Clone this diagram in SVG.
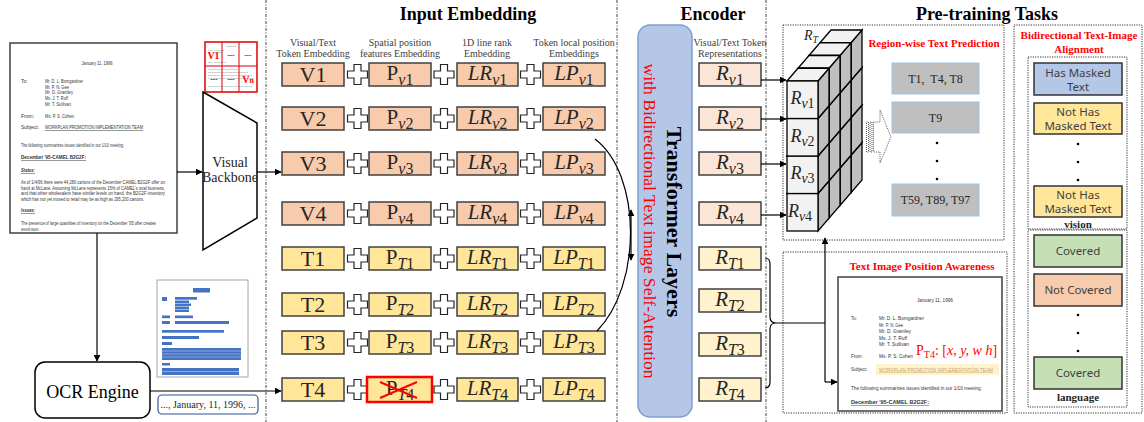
<svg xmlns="http://www.w3.org/2000/svg" width="1144" height="422" viewBox="0 0 1144 422">
<defs>
<style>
.hd{font-family:"Liberation Serif",serif;font-weight:bold;font-size:18px;fill:#000;text-anchor:middle}
.ch{font-family:"Liberation Serif",serif;font-size:10px;fill:#404040;text-anchor:middle}
.big{font-family:"Liberation Serif",serif;font-size:22px;fill:#262626;text-anchor:middle}
.m{font-family:"Liberation Serif",serif;font-size:21px;fill:#262626;text-anchor:middle}
.i{font-style:italic}
.sb{font-size:16px}
.bv{fill:#F8CBAD;stroke:#404040;stroke-width:1.5}
.bt{fill:#FFE699;stroke:#404040;stroke-width:1.5}
.rv{fill:#FBE5D6;stroke:#404040;stroke-width:1.5}
.rt{fill:#FFF2CC;stroke:#404040;stroke-width:1.5}
.sep{stroke:#444;stroke-width:1;stroke-dasharray:3 1.5 1 1.5;fill:none}
.dot{stroke:#333;stroke-width:1;stroke-dasharray:1.2 1.2;fill:none}
.ln{stroke:#000;stroke-width:1.2;fill:none}
.dt{font-family:"Liberation Sans",sans-serif;font-size:5px;fill:#333}
.dti{font-family:"Liberation Sans",sans-serif;font-size:4.5px;fill:#333}
.red{font-family:"Liberation Serif",serif;font-weight:bold;font-size:11px;fill:#FF0000;text-anchor:middle}
.gb{fill:#BFBFBF;stroke:#9DC3E6;stroke-width:1}
.gt{font-family:"Liberation Serif",serif;font-size:12px;fill:#262626;text-anchor:middle}
.st{font-family:"Noto Sans",sans-serif;font-size:11.5px;fill:#404040;text-anchor:middle}
.sbx{stroke:#333;stroke-width:1.5}
.lbl{font-family:"Liberation Serif",serif;font-weight:bold;font-size:11px;fill:#262626;text-anchor:middle}
.bar{fill:#4472C4}
.th{fill:#C8C8C8}
.rd{font-family:"Liberation Sans",sans-serif;font-weight:bold;font-size:7px;fill:#FF0000;text-anchor:middle}
.cl{font-family:"Liberation Serif",serif;font-size:18px;fill:#262626;text-anchor:middle}
</style>
<marker id="ah" viewBox="0 0 10 10" refX="9" refY="5" markerWidth="7" markerHeight="7" markerUnits="userSpaceOnUse" orient="auto-start-reverse"><path d="M0,0 L10,5 L0,10 z" fill="#000"/></marker>
<path id="plus" d="M-3.5,-10h7v6.5h6.5v7h-6.5v6.5h-7v-6.5h-6.5v-7h6.5z" fill="#fff" stroke="#262626" stroke-width="1.2"/>
<g id="cube">
<polygon points="31,0 42,-12.75 42,24.75 31,37.5" fill="#BFBFBF" stroke="#000" stroke-width="1.3"/>
<polygon points="0,0 11,-12.75 42,-12.75 31,0" fill="#F2F2F2" stroke="#000" stroke-width="1.3"/>
<rect width="31" height="37.5" fill="#F2F2F2" stroke="#000" stroke-width="1.3"/>
</g>
</defs>
<rect width="1144" height="422" fill="#fff"/>

<!-- separators and headers -->
<g id="frame">
<line class="sep" x1="266" y1="0" x2="266" y2="422"/>
<line class="sep" x1="617" y1="0" x2="617" y2="422"/>
<line class="sep" x1="766" y1="0" x2="766" y2="422"/>
<text class="hd" x="468" y="20">Input Embedding</text>
<text class="hd" x="713" y="20">Encoder</text>
<text class="hd" x="987" y="20">Pre-training Tasks</text>
<text class="ch" x="313" y="46">Visual/Text</text>
<text class="ch" x="313" y="57">Token Embedding</text>
<text class="ch" x="400" y="46">Spatial position</text>
<text class="ch" x="400" y="57">features Embedding</text>
<text class="ch" x="487" y="46">1D line rank</text>
<text class="ch" x="487" y="57">Embedding</text>
<text class="ch" x="574" y="46">Token local position</text>
<text class="ch" x="574" y="57">Embeddings</text>
<text class="ch" x="730" y="46">Visual/Text Token</text>
<text class="ch" x="730" y="57">Representations</text>
</g>

<!-- source document -->
<g id="document">
<rect x="10" y="43" width="167" height="190" fill="#fff" stroke="#404040" stroke-width="1.5"/>
<text class="dt" x="97" y="65" text-anchor="middle" textLength="31" lengthAdjust="spacingAndGlyphs">January 11, 1996</text>
<text class="dt" x="21" y="83">To:</text>
<text class="dt" x="45" y="83" textLength="38" lengthAdjust="spacingAndGlyphs">Mr. D. L. Bomgardner</text>
<text class="dt" x="45" y="88.5" textLength="24" lengthAdjust="spacingAndGlyphs">Mr. P. N. Gee</text>
<text class="dt" x="45" y="94" textLength="28" lengthAdjust="spacingAndGlyphs">Mr. D. Gramley</text>
<text class="dt" x="45" y="100" textLength="23" lengthAdjust="spacingAndGlyphs">Ms. J. T. Ruff</text>
<text class="dt" x="45" y="106" textLength="26" lengthAdjust="spacingAndGlyphs">Mr. T. Sullivan</text>
<text class="dt" x="21" y="118">From:</text>
<text class="dt" x="45" y="118" textLength="29" lengthAdjust="spacingAndGlyphs">Ms. P. S. Cohen</text>
<text class="dt" x="21" y="129">Subject:</text>
<text class="dt" x="45" y="129" textLength="98" lengthAdjust="spacingAndGlyphs" text-decoration="underline">WORKPLAN PROMOTION IMPLEMENTATION TEAM</text>
<text class="dt" x="21" y="147" textLength="103" lengthAdjust="spacingAndGlyphs">The following summarizes issues identified in our 1/10 meeting:</text>
<text class="dt" x="21" y="159" font-size="6" font-weight="bold" textLength="65" lengthAdjust="spacingAndGlyphs" text-decoration="underline">December '95-CAMEL B2G2F:</text>
<text class="dt" x="21" y="172" font-weight="bold" font-style="italic" textLength="14" lengthAdjust="spacingAndGlyphs" text-decoration="underline">Status:</text>
<text class="dt" x="21" y="184" textLength="144" lengthAdjust="spacingAndGlyphs">As of 1/4/96 there were 44,280 cartons of the December CAMEL B2G2F offer on</text>
<text class="dt" x="21" y="189.5" textLength="144" lengthAdjust="spacingAndGlyphs">hand at McLane.  Assuming McLane represents 15% of CAMEL's total business,</text>
<text class="dt" x="21" y="195" textLength="144" lengthAdjust="spacingAndGlyphs">and that other wholesalers have similar levels on hand, the B2G2F inventory</text>
<text class="dt" x="21" y="200.5" textLength="123" lengthAdjust="spacingAndGlyphs">which has not yet moved to retail may be as high as 295,200 cartons.</text>
<text class="dt" x="21" y="212" font-weight="bold" font-style="italic" textLength="14" lengthAdjust="spacingAndGlyphs" text-decoration="underline">Issues:</text>
<text class="dt" x="21" y="225" textLength="135" lengthAdjust="spacingAndGlyphs">The presence of large quantities of inventory on the December '95 offer creates</text>
<text class="dt" x="21" y="230.5" textLength="18" lengthAdjust="spacingAndGlyphs">several issues:</text>
</g>

<!-- visual patches -->
<g id="patches">
<rect x="205" y="42" width="52" height="50" fill="#fff"/>
<rect class="th" x="226" y="46" width="10" height="1"/>
<rect class="th" x="208" y="50" width="4" height="0.8"/>
<rect class="th" x="214" y="50" width="10" height="0.8"/>
<rect class="th" x="214" y="52" width="8" height="0.8"/>
<rect class="th" x="208" y="62" width="4" height="0.8"/>
<rect class="th" x="214" y="62" width="12" height="0.8"/>
<rect class="th" x="208" y="69" width="30" height="0.8"/>
<rect class="th" x="208" y="72" width="40" height="0.8"/>
<rect class="th" x="208" y="75" width="44" height="0.8"/>
<rect class="th" x="208" y="78" width="46" height="0.8"/>
<rect class="th" x="208" y="86" width="44" height="0.8"/>
<rect x="205" y="42" width="52" height="50" fill="none" stroke="#E00000" stroke-width="1.5"/>
<line x1="222" y1="42" x2="222" y2="92" stroke="#E00000" stroke-width="1"/>
<line x1="239" y1="42" x2="239" y2="92" stroke="#E00000" stroke-width="1"/>
<line x1="205" y1="66" x2="257" y2="66" stroke="#E00000" stroke-width="1"/>
<text x="213.5" y="59" font-family="Liberation Serif, serif" font-weight="bold" font-size="10" fill="#FF0000" text-anchor="middle">V1</text>
<text class="rd" x="231" y="57">---</text>
<text class="rd" x="248" y="57">---</text>
<text class="rd" x="214" y="81">---</text>
<text class="rd" x="231" y="81">---</text>
<text x="248" y="83" font-family="Liberation Serif, serif" font-weight="bold" font-size="10" fill="#FF0000" text-anchor="middle">V<tspan font-size="8">n</tspan></text>
</g>

<g id="backbone">
<polygon points="203,92 257,123 257,218 203,250" fill="#fff" stroke="#000" stroke-width="1.5"/>
<text x="230" y="167" font-family="Liberation Serif, serif" font-size="14" fill="#262626" text-anchor="middle">Visual</text>
<text x="230" y="182" font-family="Liberation Serif, serif" font-size="14" fill="#262626" text-anchor="middle">Backbone</text>
</g>

<g id="ocr-engine">
<rect x="35" y="362" width="115" height="56" rx="10" fill="#fff" stroke="#000" stroke-width="1.5"/>
<text x="92.5" y="398" font-family="Liberation Serif, serif" font-size="18" fill="#000" text-anchor="middle">OCR Engine</text>
</g>

<g id="ocr-layout">
<rect x="157" y="280" width="91" height="97" fill="#fff" stroke="#A6A6A6" stroke-width="1"/>
<rect class="bar" x="193" y="288" width="17" height="4.5"/>
<rect class="bar" x="162" y="297" width="5" height="4"/>
<rect class="bar" x="175" y="297" width="22" height="2.7"/>
<rect class="bar" x="175" y="300.5" width="14" height="2.5"/>
<rect class="bar" x="175" y="303.5" width="16" height="2.5"/>
<rect class="bar" x="175" y="306.5" width="14" height="2.5"/>
<rect class="bar" x="175" y="309.5" width="14" height="2.5"/>
<rect class="bar" x="162" y="315.5" width="8" height="2.7"/>
<rect class="bar" x="175" y="315.5" width="18" height="2.7"/>
<rect class="bar" x="162" y="321" width="8" height="3"/>
<rect class="bar" x="175" y="321" width="54" height="3"/>
<rect class="bar" x="162" y="330" width="62" height="2.7"/>
<rect class="bar" x="162" y="336" width="37" height="3"/>
<rect class="bar" x="162" y="342" width="10" height="3"/>
<rect class="bar" x="162" y="348" width="79" height="12"/>
<rect class="bar" x="162" y="363" width="8" height="2.5"/>
<rect class="bar" x="162" y="368" width="77" height="7"/>
<line x1="162" y1="351" x2="241" y2="351" stroke="#fff" stroke-width="0.4"/>
<line x1="162" y1="354" x2="241" y2="354" stroke="#fff" stroke-width="0.4"/>
<line x1="162" y1="357" x2="241" y2="357" stroke="#fff" stroke-width="0.4"/>
<line x1="162" y1="371.5" x2="239" y2="371.5" stroke="#fff" stroke-width="0.4"/>
</g>

<g id="ocr-text">
<rect x="158" y="395" width="100" height="19" rx="4" fill="#fff" stroke="#2F5597" stroke-width="1.2"/>
<text x="208" y="408" font-family="Liberation Serif, serif" font-size="10" fill="#262626" text-anchor="middle">..., January, 11, 1996, ...</text>
</g>

<!-- input embedding rows -->
<g id="row-v1">
<rect class="bv" x="282" y="63" width="62" height="23"/><text class="big" x="313" y="82">V1</text>
<use href="#plus" x="357.5" y="74.5"/>
<rect class="bv" x="369" y="63" width="62" height="23"/><text class="m" x="400" y="80">P<tspan class="sb" dy="4.5"><tspan class="i">v</tspan>1</tspan></text>
<use href="#plus" x="444" y="74.5"/>
<rect class="bv" x="457" y="63" width="61" height="23"/><text class="m" x="487.5" y="80"><tspan class="i">LR</tspan><tspan class="sb" dy="4.5"><tspan class="i">v</tspan>1</tspan></text>
<use href="#plus" x="530.5" y="74.5"/>
<rect class="bv" x="543" y="63" width="62" height="23"/><text class="m" x="574" y="80"><tspan class="i">LP</tspan><tspan class="sb" dy="4.5"><tspan class="i">v</tspan>1</tspan></text>
</g>
<g id="row-v2">
<rect class="bv" x="282" y="107" width="62" height="23"/><text class="big" x="313" y="126">V2</text>
<use href="#plus" x="357.5" y="118.5"/>
<rect class="bv" x="369" y="107" width="62" height="23"/><text class="m" x="400" y="124">P<tspan class="sb" dy="4.5"><tspan class="i">v</tspan>2</tspan></text>
<use href="#plus" x="444" y="118.5"/>
<rect class="bv" x="457" y="107" width="61" height="23"/><text class="m" x="487.5" y="124"><tspan class="i">LR</tspan><tspan class="sb" dy="4.5"><tspan class="i">v</tspan>2</tspan></text>
<use href="#plus" x="530.5" y="118.5"/>
<rect class="bv" x="543" y="107" width="62" height="23"/><text class="m" x="574" y="124"><tspan class="i">LP</tspan><tspan class="sb" dy="4.5"><tspan class="i">v</tspan>2</tspan></text>
</g>
<g id="row-v3">
<rect class="bv" x="282" y="152" width="62" height="23"/><text class="big" x="313" y="171">V3</text>
<use href="#plus" x="357.5" y="163.5"/>
<rect class="bv" x="369" y="152" width="62" height="23"/><text class="m" x="400" y="169">P<tspan class="sb" dy="4.5"><tspan class="i">v</tspan>3</tspan></text>
<use href="#plus" x="444" y="163.5"/>
<rect class="bv" x="457" y="152" width="61" height="23"/><text class="m" x="487.5" y="169"><tspan class="i">LR</tspan><tspan class="sb" dy="4.5"><tspan class="i">v</tspan>3</tspan></text>
<use href="#plus" x="530.5" y="163.5"/>
<rect class="bv" x="543" y="152" width="62" height="23"/><text class="m" x="574" y="169"><tspan class="i">LP</tspan><tspan class="sb" dy="4.5"><tspan class="i">v</tspan>3</tspan></text>
</g>
<g id="row-v4">
<rect class="bv" x="282" y="202" width="62" height="23"/><text class="big" x="313" y="221">V4</text>
<use href="#plus" x="357.5" y="213.5"/>
<rect class="bv" x="369" y="202" width="62" height="23"/><text class="m" x="400" y="219">P<tspan class="sb" dy="4.5"><tspan class="i">v</tspan>4</tspan></text>
<use href="#plus" x="444" y="213.5"/>
<rect class="bv" x="457" y="202" width="61" height="23"/><text class="m" x="487.5" y="219"><tspan class="i">LR</tspan><tspan class="sb" dy="4.5"><tspan class="i">v</tspan>4</tspan></text>
<use href="#plus" x="530.5" y="213.5"/>
<rect class="bv" x="543" y="202" width="62" height="23"/><text class="m" x="574" y="219"><tspan class="i">LP</tspan><tspan class="sb" dy="4.5"><tspan class="i">v</tspan>4</tspan></text>
</g>
<g id="row-t1">
<rect class="bt" x="282" y="247" width="62" height="23"/><text class="big" x="313" y="266">T1</text>
<use href="#plus" x="357.5" y="258.5"/>
<rect class="bt" x="369" y="247" width="62" height="23"/><text class="m" x="400" y="264">P<tspan class="sb" dy="4.5"><tspan class="i">T</tspan>1</tspan></text>
<use href="#plus" x="444" y="258.5"/>
<rect class="bt" x="457" y="247" width="61" height="23"/><text class="m" x="487.5" y="264"><tspan class="i">LR</tspan><tspan class="sb" dy="4.5"><tspan class="i">T</tspan>1</tspan></text>
<use href="#plus" x="530.5" y="258.5"/>
<rect class="bt" x="543" y="247" width="62" height="23"/><text class="m" x="574" y="264"><tspan class="i">LP</tspan><tspan class="sb" dy="4.5"><tspan class="i">T</tspan>1</tspan></text>
</g>
<g id="row-t2">
<rect class="bt" x="282" y="293" width="62" height="23"/><text class="big" x="313" y="312">T2</text>
<use href="#plus" x="357.5" y="304.5"/>
<rect class="bt" x="369" y="293" width="62" height="23"/><text class="m" x="400" y="310">P<tspan class="sb" dy="4.5"><tspan class="i">T</tspan>2</tspan></text>
<use href="#plus" x="444" y="304.5"/>
<rect class="bt" x="457" y="293" width="61" height="23"/><text class="m" x="487.5" y="310"><tspan class="i">LR</tspan><tspan class="sb" dy="4.5"><tspan class="i">T</tspan>2</tspan></text>
<use href="#plus" x="530.5" y="304.5"/>
<rect class="bt" x="543" y="293" width="62" height="23"/><text class="m" x="574" y="310"><tspan class="i">LP</tspan><tspan class="sb" dy="4.5"><tspan class="i">T</tspan>2</tspan></text>
</g>
<g id="row-t3">
<rect class="bt" x="282" y="331" width="62" height="23"/><text class="big" x="313" y="350">T3</text>
<use href="#plus" x="357.5" y="342.5"/>
<rect class="bt" x="369" y="331" width="62" height="23"/><text class="m" x="400" y="348">P<tspan class="sb" dy="4.5"><tspan class="i">T</tspan>3</tspan></text>
<use href="#plus" x="444" y="342.5"/>
<rect class="bt" x="457" y="331" width="61" height="23"/><text class="m" x="487.5" y="348"><tspan class="i">LR</tspan><tspan class="sb" dy="4.5"><tspan class="i">T</tspan>3</tspan></text>
<use href="#plus" x="530.5" y="342.5"/>
<rect class="bt" x="543" y="331" width="62" height="23"/><text class="m" x="574" y="348"><tspan class="i">LP</tspan><tspan class="sb" dy="4.5"><tspan class="i">T</tspan>3</tspan></text>
</g>
<g id="row-t4">
<rect class="bt" x="282" y="378" width="62" height="23"/><text class="big" x="313" y="397">T4</text>
<use href="#plus" x="357.5" y="389.5"/>
<rect x="367" y="377" width="65" height="25" fill="#FFE699" stroke="#FF0000" stroke-width="2.5"/><text class="m" x="400" y="395">P<tspan class="sb" dy="4.5"><tspan class="i">T</tspan>4</tspan></text>
<line x1="380" y1="382" x2="417" y2="398" stroke="#FF0000" stroke-width="2"/>
<line x1="380" y1="398" x2="417" y2="382" stroke="#FF0000" stroke-width="2"/>
<use href="#plus" x="444" y="389.5"/>
<rect class="bt" x="457" y="378" width="61" height="23"/><text class="m" x="487.5" y="395"><tspan class="i">LR</tspan><tspan class="sb" dy="4.5"><tspan class="i">T</tspan>4</tspan></text>
<use href="#plus" x="530.5" y="389.5"/>
<rect class="bt" x="543" y="378" width="62" height="23"/><text class="m" x="574" y="395"><tspan class="i">LP</tspan><tspan class="sb" dy="4.5"><tspan class="i">T</tspan>4</tspan></text>
</g>

<!-- transformer -->
<g id="transformer">
<rect x="638" y="25" width="54" height="392" rx="12" fill="#B4C7E7" stroke="#7F9ED2" stroke-width="1.5"/>
<text transform="translate(667,222) rotate(90)" font-family="Liberation Serif, serif" font-weight="bold" font-size="22" fill="#000" text-anchor="middle">Transformer Layers</text>
<text transform="translate(643.5,221) rotate(90)" font-family="Liberation Serif, serif" font-size="17" fill="#FF0000" text-anchor="middle" textLength="315" lengthAdjust="spacingAndGlyphs">with Bidirectional Text image Self-Attention</text>
</g>

<!-- encoder outputs -->
<g id="enc-rv1"><rect class="rv" x="699" y="63" width="62" height="23"/><text class="m" x="730" y="80"><tspan class="i">R</tspan><tspan class="sb" dy="4.5"><tspan class="i">v</tspan>1</tspan></text></g>
<g id="enc-rv2"><rect class="rv" x="699" y="107" width="62" height="23"/><text class="m" x="730" y="124"><tspan class="i">R</tspan><tspan class="sb" dy="4.5"><tspan class="i">v</tspan>2</tspan></text></g>
<g id="enc-rv3"><rect class="rv" x="699" y="152" width="62" height="23"/><text class="m" x="730" y="169"><tspan class="i">R</tspan><tspan class="sb" dy="4.5"><tspan class="i">v</tspan>3</tspan></text></g>
<g id="enc-rv4"><rect class="rv" x="699" y="202" width="62" height="23"/><text class="m" x="730" y="219"><tspan class="i">R</tspan><tspan class="sb" dy="4.5"><tspan class="i">v</tspan>4</tspan></text></g>
<g id="enc-rt1"><rect class="rt" x="699" y="247" width="62" height="23"/><text class="m" x="730" y="264"><tspan class="i">R</tspan><tspan class="sb" dy="4.5"><tspan class="i">T</tspan>1</tspan></text></g>
<g id="enc-rt2"><rect class="rt" x="699" y="289" width="62" height="23"/><text class="m" x="730" y="306"><tspan class="i">R</tspan><tspan class="sb" dy="4.5"><tspan class="i">T</tspan>2</tspan></text></g>
<g id="enc-rt3"><rect class="rt" x="699" y="333" width="62" height="23"/><text class="m" x="730" y="350"><tspan class="i">R</tspan><tspan class="sb" dy="4.5"><tspan class="i">T</tspan>3</tspan></text></g>
<g id="enc-rt4"><rect class="rt" x="699" y="378" width="62" height="23"/><text class="m" x="730" y="395"><tspan class="i">R</tspan><tspan class="sb" dy="4.5"><tspan class="i">T</tspan>4</tspan></text></g>

<!-- region-wise text prediction -->
<g id="region-task">
<rect class="dot" x="783" y="25" width="221" height="215"/>
<use href="#cube" x="820" y="155.25"/>
<use href="#cube" x="820" y="117.75"/>
<use href="#cube" x="820" y="80.25"/>
<use href="#cube" x="820" y="42.75"/>
<use href="#cube" x="809" y="168"/>
<use href="#cube" x="809" y="130.5"/>
<use href="#cube" x="809" y="93"/>
<use href="#cube" x="809" y="55.5"/>
<use href="#cube" x="798" y="180.75"/>
<use href="#cube" x="798" y="143.25"/>
<use href="#cube" x="798" y="105.75"/>
<use href="#cube" x="798" y="68.25"/>
<use href="#cube" x="787" y="193.5"/>
<use href="#cube" x="787" y="156"/>
<use href="#cube" x="787" y="118.5"/>
<use href="#cube" x="787" y="81"/>
<text class="cl" x="802.5" y="104"><tspan class="i">R</tspan><tspan font-size="14" dy="4"><tspan class="i">v</tspan>1</tspan></text>
<text class="cl" x="802.5" y="141.5"><tspan class="i">R</tspan><tspan font-size="14" dy="4"><tspan class="i">v</tspan>2</tspan></text>
<text class="cl" x="802.5" y="179"><tspan class="i">R</tspan><tspan font-size="14" dy="4"><tspan class="i">v</tspan>3</tspan></text>
<text class="cl" x="800" y="216.5"><tspan class="i">R</tspan><tspan font-size="14" dy="4"><tspan class="i">v</tspan>4</tspan></text>
<text x="811" y="40" font-family="Liberation Serif, serif" font-size="14" fill="#262626" text-anchor="middle"><tspan class="i">R</tspan><tspan font-size="10" dy="3" class="i">T</tspan></text>
<text class="red" x="934" y="47">Region-wise Text Prediction</text>
<g fill="none" stroke="#333" stroke-width="0.8" stroke-dasharray="1 1">
<rect x="866.5" y="122" width="2" height="30"/>
<rect x="870" y="122" width="2" height="30"/>
<polygon points="873.5,122 880,122 880,110 891,137 880,163 880,152 873.5,152"/>
</g>
<rect class="gb" x="892" y="63" width="87" height="31"/>
<text class="gt" x="935.5" y="82.5" xml:space="preserve">T1,  T4, T8</text>
<rect class="gb" x="892" y="102" width="87" height="31"/>
<text class="gt" x="935.5" y="121.5">T9</text>
<circle cx="937" cy="143" r="1.3" fill="#000"/>
<circle cx="937" cy="161" r="1.3" fill="#000"/>
<circle cx="937" cy="179" r="1.3" fill="#000"/>
<rect class="gb" x="892" y="184" width="87" height="32"/>
<text class="gt" x="935.5" y="204">T59, T89, T97</text>
</g>

<!-- text image position awareness -->
<g id="position-task">
<rect class="dot" x="783" y="252" width="224" height="161"/>
<text class="red" x="922" y="270">Text Image Position Awareness</text>
<rect x="838" y="277" width="164" height="134" fill="#fff" stroke="#404040" stroke-width="1.5"/>
<text class="dti" x="935" y="302" text-anchor="middle" textLength="36" lengthAdjust="spacingAndGlyphs">January 11, 1996</text>
<text class="dti" x="851" y="320">To:</text>
<text class="dti" x="879" y="320" textLength="45" lengthAdjust="spacingAndGlyphs">Mr. D. L. Bomgardner</text>
<text class="dti" x="879" y="326.5" textLength="24" lengthAdjust="spacingAndGlyphs">Mr. P. N. Gee</text>
<text class="dti" x="879" y="333" textLength="32" lengthAdjust="spacingAndGlyphs">Mr. D. Gramley</text>
<text class="dti" x="879" y="339.5" textLength="28" lengthAdjust="spacingAndGlyphs">Ms. J. T. Ruff</text>
<text class="dti" x="879" y="346" textLength="30" lengthAdjust="spacingAndGlyphs">Mr. T. Sullivan</text>
<text class="dti" x="851" y="358">From:</text>
<text class="dti" x="879" y="358" textLength="34" lengthAdjust="spacingAndGlyphs">Ms. P. S. Cohen</text>
<text class="dti" x="851" y="371">Subject:</text>
<rect x="876" y="364" width="123" height="11" fill="#FFF2CC"/>
<text class="dti" x="879" y="371.5" style="fill:#C8A46E" textLength="114" lengthAdjust="spacingAndGlyphs" text-decoration="underline">WORKPLAN PROMOTION IMPLEMENTATION TEAM</text>
<text class="dti" x="851" y="390" textLength="131" lengthAdjust="spacingAndGlyphs">The following summarizes issues identified in our 1/10 meeting:</text>
<text class="dti" x="851" y="404" font-size="5.5" font-weight="bold" textLength="78" lengthAdjust="spacingAndGlyphs" text-decoration="underline">December '95-CAMEL B2G2F:</text>
<text x="916" y="355" font-family="Liberation Serif, serif" font-size="14" fill="#FF0000">P<tspan font-size="10" dy="3">T4</tspan><tspan dy="-3">: [</tspan><tspan class="i">x, y, w h</tspan>]</text>
</g>

<!-- bidirectional alignment -->
<g id="alignment-task">
<rect class="dot" x="1014" y="25" width="128" height="388"/>
<text class="red" x="1079" y="39">Bidirectional Text-Image</text>
<text class="red" x="1079" y="53">Alignment</text>
<rect class="dot" x="1028" y="57" width="99" height="172"/>
<rect class="dot" x="1028" y="230" width="99" height="177"/>
<rect class="sbx" x="1034" y="63" width="88" height="32" fill="#B4C7E7"/>
<text class="st" x="1078" y="77">Has Masked</text>
<text class="st" x="1078" y="91">Text</text>
<rect class="sbx" x="1034" y="103" width="88" height="31" fill="#FFE699"/>
<text class="st" x="1078" y="116">Not Has</text>
<text class="st" x="1078" y="130">Masked Text</text>
<circle cx="1078" cy="144" r="1.3" fill="#000"/>
<circle cx="1078" cy="162" r="1.3" fill="#000"/>
<circle cx="1078" cy="180" r="1.3" fill="#000"/>
<rect class="sbx" x="1034" y="186" width="88" height="31" fill="#FFE699"/>
<text class="st" x="1078" y="199">Not Has</text>
<text class="st" x="1078" y="213">Masked Text</text>
<text class="lbl" x="1078" y="228">vision</text>
<rect class="sbx" x="1034" y="235" width="88" height="32" fill="#C5E0B4"/>
<text class="st" x="1078" y="255">Covered</text>
<rect class="sbx" x="1034" y="274" width="88" height="32" fill="#F8CBAD"/>
<text class="st" x="1078" y="294">Not Covered</text>
<circle cx="1078" cy="315" r="1.3" fill="#000"/>
<circle cx="1078" cy="333" r="1.3" fill="#000"/>
<circle cx="1078" cy="351" r="1.3" fill="#000"/>
<rect class="sbx" x="1034" y="357" width="88" height="32" fill="#C5E0B4"/>
<text class="st" x="1078" y="377">Covered</text>
<text class="lbl" x="1078" y="401">language</text>
</g>

<!-- connectors -->
<g id="connectors" class="ln">
<path d="M177,172 H202" marker-end="url(#ah)"/>
<path d="M257,172 H281" marker-end="url(#ah)"/>
<path d="M97,233 V361" marker-end="url(#ah)"/>
<path d="M150,391 H281" marker-end="url(#ah)"/>
<path d="M595,139 C642,175 642,285 597,331"/>
<path d="M631,210 V260" marker-start="url(#ah)" marker-end="url(#ah)"/>
<path d="M761,80 H786" marker-end="url(#ah)"/>
<path d="M761,119 H786" marker-end="url(#ah)"/>
<path d="M761,164 H786" marker-end="url(#ah)"/>
<path d="M761,215 H786" marker-end="url(#ah)"/>
<path d="M765,258 Q770,258 770,264 V317 Q770,323 776,323 Q770,323 770,329 V382 Q770,388 765,388"/>
<path d="M776,323 H825"/>
<path d="M825,382 V238" marker-end="url(#ah)"/>
<path d="M825,382 H837" marker-end="url(#ah)"/>
</g>
</svg>
